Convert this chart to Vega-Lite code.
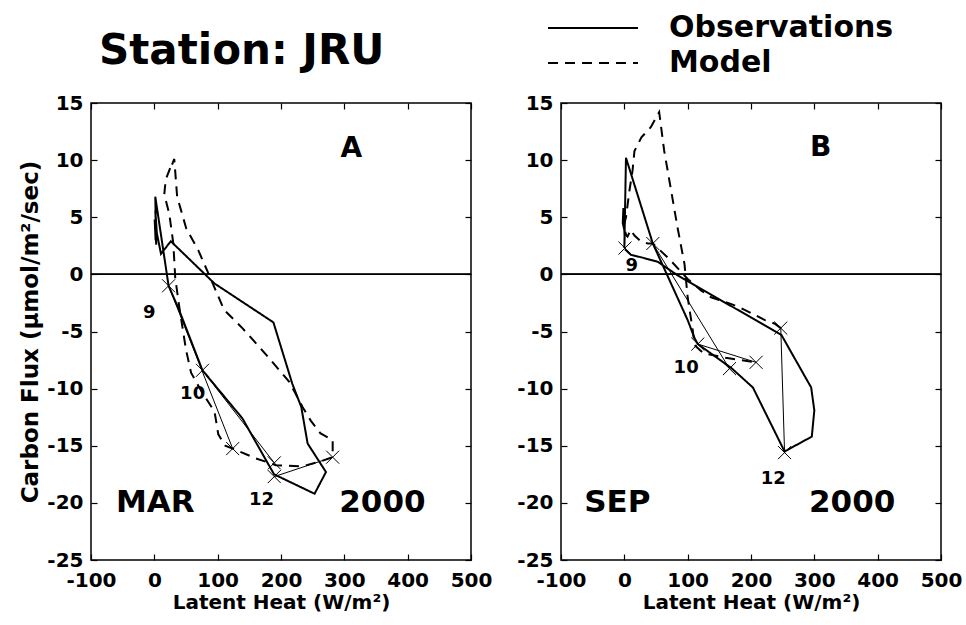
{
  "$schema": "https://vega.github.io/schema/vega-lite/v6.json",
  "padding": {"left": 19, "top": 12, "right": 5, "bottom": 5},
  "background": "white",
  "title": {"text": "Station: JRU", "anchor": "start", "frame": "group", "font": "DejaVu Sans", "fontSize": 42, "fontWeight": "bold", "color": "black", "dx": 8, "dy": 81, "offset": 20},
  "datasets": {
    "curves": [
      {"panel": "A", "series": "Observations", "ord": 1, "le": 2, "cf": 3.0},
      {"panel": "A", "series": "Observations", "ord": 2, "le": 0.5, "cf": 4.8},
      {"panel": "A", "series": "Observations", "ord": 3, "le": 3, "cf": 2.6},
      {"panel": "A", "series": "Observations", "ord": 4, "le": 1.5, "cf": 6.8},
      {"panel": "A", "series": "Observations", "ord": 5, "le": 22.5, "cf": -1.0},
      {"panel": "A", "series": "Observations", "ord": 6, "le": 39, "cf": -3.1},
      {"panel": "A", "series": "Observations", "ord": 7, "le": 76, "cf": -8.4},
      {"panel": "A", "series": "Observations", "ord": 8, "le": 139, "cf": -12.6},
      {"panel": "A", "series": "Observations", "ord": 9, "le": 189, "cf": -17.5},
      {"panel": "A", "series": "Observations", "ord": 10, "le": 253, "cf": -19.2},
      {"panel": "A", "series": "Observations", "ord": 11, "le": 271, "cf": -17.3},
      {"panel": "A", "series": "Observations", "ord": 12, "le": 242, "cf": -14.8},
      {"panel": "A", "series": "Observations", "ord": 13, "le": 232, "cf": -11.6},
      {"panel": "A", "series": "Observations", "ord": 14, "le": 218, "cf": -9.6},
      {"panel": "A", "series": "Observations", "ord": 15, "le": 188, "cf": -4.2},
      {"panel": "A", "series": "Observations", "ord": 16, "le": 95, "cf": -0.8},
      {"panel": "A", "series": "Observations", "ord": 17, "le": 26, "cf": 2.9},
      {"panel": "A", "series": "Observations", "ord": 18, "le": 10.5, "cf": 1.8},
      {"panel": "A", "series": "Observations", "ord": 19, "le": 4, "cf": 3.6},
      {"panel": "A", "series": "Observations", "ord": 20, "le": 1.5, "cf": 5.6},
      {"panel": "A", "series": "Observations", "ord": 21, "le": 3.5, "cf": 3.0},
      {"panel": "A", "series": "Model", "ord": 1, "le": 25, "cf": 9.3},
      {"panel": "A", "series": "Model", "ord": 2, "le": 18, "cf": 8.3},
      {"panel": "A", "series": "Model", "ord": 3, "le": 15.7, "cf": 7.0},
      {"panel": "A", "series": "Model", "ord": 4, "le": 23.6, "cf": 5.3},
      {"panel": "A", "series": "Model", "ord": 5, "le": 30, "cf": 2.7},
      {"panel": "A", "series": "Model", "ord": 6, "le": 33, "cf": -0.3},
      {"panel": "A", "series": "Model", "ord": 7, "le": 39.5, "cf": -2.9},
      {"panel": "A", "series": "Model", "ord": 8, "le": 50, "cf": -6.6},
      {"panel": "A", "series": "Model", "ord": 9, "le": 58, "cf": -8.6},
      {"panel": "A", "series": "Model", "ord": 10, "le": 75, "cf": -10.3},
      {"panel": "A", "series": "Model", "ord": 11, "le": 95, "cf": -12.0},
      {"panel": "A", "series": "Model", "ord": 12, "le": 101, "cf": -14.0},
      {"panel": "A", "series": "Model", "ord": 13, "le": 112, "cf": -15.0},
      {"panel": "A", "series": "Model", "ord": 14, "le": 123.7, "cf": -15.25},
      {"panel": "A", "series": "Model", "ord": 15, "le": 160, "cf": -16.1},
      {"panel": "A", "series": "Model", "ord": 16, "le": 192, "cf": -16.7},
      {"panel": "A", "series": "Model", "ord": 17, "le": 234, "cf": -16.8},
      {"panel": "A", "series": "Model", "ord": 18, "le": 266, "cf": -16.3},
      {"panel": "A", "series": "Model", "ord": 19, "le": 281.6, "cf": -16.0},
      {"panel": "A", "series": "Model", "ord": 20, "le": 281.6, "cf": -14.5},
      {"panel": "A", "series": "Model", "ord": 21, "le": 262, "cf": -13.9},
      {"panel": "A", "series": "Model", "ord": 22, "le": 247, "cf": -12.8},
      {"panel": "A", "series": "Model", "ord": 23, "le": 234, "cf": -11.6},
      {"panel": "A", "series": "Model", "ord": 24, "le": 213, "cf": -9.4},
      {"panel": "A", "series": "Model", "ord": 25, "le": 176, "cf": -7.0},
      {"panel": "A", "series": "Model", "ord": 26, "le": 139, "cf": -4.7},
      {"panel": "A", "series": "Model", "ord": 27, "le": 110, "cf": -3.1},
      {"panel": "A", "series": "Model", "ord": 28, "le": 91.5, "cf": -0.7},
      {"panel": "A", "series": "Model", "ord": 29, "le": 69.5, "cf": 2.1},
      {"panel": "A", "series": "Model", "ord": 30, "le": 50.5, "cf": 4.0},
      {"panel": "A", "series": "Model", "ord": 31, "le": 36, "cf": 6.8},
      {"panel": "A", "series": "Model", "ord": 32, "le": 31.5, "cf": 10.1},
      {"panel": "A", "series": "Model", "ord": 33, "le": 28, "cf": 9.6},
      {"panel": "B", "series": "Observations", "ord": 1, "le": 1.5, "cf": 3.5},
      {"panel": "B", "series": "Observations", "ord": 2, "le": -2.5, "cf": 4.5},
      {"panel": "B", "series": "Observations", "ord": 3, "le": -1.5, "cf": 5.8},
      {"panel": "B", "series": "Observations", "ord": 4, "le": 0.5, "cf": 3.2},
      {"panel": "B", "series": "Observations", "ord": 5, "le": 0, "cf": 2.3},
      {"panel": "B", "series": "Observations", "ord": 6, "le": 2.6, "cf": 10.2},
      {"panel": "B", "series": "Observations", "ord": 7, "le": 45, "cf": 2.7},
      {"panel": "B", "series": "Observations", "ord": 8, "le": 100, "cf": -4.0},
      {"panel": "B", "series": "Observations", "ord": 9, "le": 111, "cf": -5.6},
      {"panel": "B", "series": "Observations", "ord": 10, "le": 116, "cf": -6.1},
      {"panel": "B", "series": "Observations", "ord": 11, "le": 169, "cf": -8.2},
      {"panel": "B", "series": "Observations", "ord": 12, "le": 203, "cf": -9.9},
      {"panel": "B", "series": "Observations", "ord": 13, "le": 253, "cf": -15.5},
      {"panel": "B", "series": "Observations", "ord": 14, "le": 296, "cf": -14.2},
      {"panel": "B", "series": "Observations", "ord": 15, "le": 300, "cf": -11.9},
      {"panel": "B", "series": "Observations", "ord": 16, "le": 295, "cf": -9.9},
      {"panel": "B", "series": "Observations", "ord": 17, "le": 248, "cf": -5.3},
      {"panel": "B", "series": "Observations", "ord": 18, "le": 84.5, "cf": -0.1},
      {"panel": "B", "series": "Observations", "ord": 19, "le": 52.8, "cf": 1.1},
      {"panel": "B", "series": "Observations", "ord": 20, "le": 26.3, "cf": 1.5},
      {"panel": "B", "series": "Observations", "ord": 21, "le": 10.5, "cf": 1.7},
      {"panel": "B", "series": "Observations", "ord": 22, "le": 1, "cf": 2.2},
      {"panel": "B", "series": "Model", "ord": 1, "le": 247, "cf": -4.7},
      {"panel": "B", "series": "Model", "ord": 2, "le": 237, "cf": -4.3},
      {"panel": "B", "series": "Model", "ord": 3, "le": 222, "cf": -4.0},
      {"panel": "B", "series": "Model", "ord": 4, "le": 190, "cf": -3.1},
      {"panel": "B", "series": "Model", "ord": 5, "le": 169, "cf": -2.6},
      {"panel": "B", "series": "Model", "ord": 6, "le": 137, "cf": -2.0},
      {"panel": "B", "series": "Model", "ord": 7, "le": 121, "cf": -1.4},
      {"panel": "B", "series": "Model", "ord": 8, "le": 100, "cf": -0.4},
      {"panel": "B", "series": "Model", "ord": 9, "le": 70, "cf": 1.4},
      {"panel": "B", "series": "Model", "ord": 10, "le": 45, "cf": 2.7},
      {"panel": "B", "series": "Model", "ord": 11, "le": 37, "cf": 2.7},
      {"panel": "B", "series": "Model", "ord": 12, "le": 26, "cf": 2.9},
      {"panel": "B", "series": "Model", "ord": 13, "le": 16, "cf": 3.4},
      {"panel": "B", "series": "Model", "ord": 14, "le": 10, "cf": 3.9},
      {"panel": "B", "series": "Model", "ord": 15, "le": 5, "cf": 3.3},
      {"panel": "B", "series": "Model", "ord": 16, "le": 3, "cf": 3.4},
      {"panel": "B", "series": "Model", "ord": 17, "le": -1, "cf": 4.3},
      {"panel": "B", "series": "Model", "ord": 18, "le": 2.6, "cf": 5.0},
      {"panel": "B", "series": "Model", "ord": 19, "le": 8, "cf": 7.3},
      {"panel": "B", "series": "Model", "ord": 20, "le": 13, "cf": 9.1},
      {"panel": "B", "series": "Model", "ord": 21, "le": 16, "cf": 10.8},
      {"panel": "B", "series": "Model", "ord": 22, "le": 27, "cf": 12.0},
      {"panel": "B", "series": "Model", "ord": 23, "le": 42, "cf": 12.9},
      {"panel": "B", "series": "Model", "ord": 24, "le": 55, "cf": 14.2},
      {"panel": "B", "series": "Model", "ord": 25, "le": 63, "cf": 10.8},
      {"panel": "B", "series": "Model", "ord": 26, "le": 74, "cf": 7.3},
      {"panel": "B", "series": "Model", "ord": 27, "le": 84, "cf": 4.1},
      {"panel": "B", "series": "Model", "ord": 28, "le": 95, "cf": 0.9},
      {"panel": "B", "series": "Model", "ord": 29, "le": 100, "cf": -2.0},
      {"panel": "B", "series": "Model", "ord": 30, "le": 108, "cf": -4.9},
      {"panel": "B", "series": "Model", "ord": 31, "le": 111, "cf": -6.2},
      {"panel": "B", "series": "Model", "ord": 32, "le": 125, "cf": -6.9},
      {"panel": "B", "series": "Model", "ord": 33, "le": 160, "cf": -7.3},
      {"panel": "B", "series": "Model", "ord": 34, "le": 208, "cf": -7.7}
    ],
    "thin": [
      {"panel": "A", "seg": 1, "ord": 1, "le": 22.5, "cf": -1.0},
      {"panel": "A", "seg": 1, "ord": 2, "le": 123.7, "cf": -15.25},
      {"panel": "A", "seg": 2, "ord": 1, "le": 76, "cf": -8.4},
      {"panel": "A", "seg": 2, "ord": 2, "le": 189.4, "cf": -16.5},
      {"panel": "A", "seg": 3, "ord": 1, "le": 189.4, "cf": -17.7},
      {"panel": "A", "seg": 3, "ord": 2, "le": 281.6, "cf": -16.0},
      {"panel": "B", "seg": 1, "ord": 1, "le": 45, "cf": 2.7},
      {"panel": "B", "seg": 1, "ord": 2, "le": 166, "cf": -8.25},
      {"panel": "B", "seg": 2, "ord": 1, "le": 116, "cf": -6.1},
      {"panel": "B", "seg": 2, "ord": 2, "le": 208, "cf": -7.7},
      {"panel": "B", "seg": 3, "ord": 1, "le": 247, "cf": -4.7},
      {"panel": "B", "seg": 3, "ord": 2, "le": 253, "cf": -15.6}
    ],
    "marks": [
      {"panel": "A", "le": 22.5, "cf": -1.0},
      {"panel": "A", "le": 76, "cf": -8.4},
      {"panel": "A", "le": 123.7, "cf": -15.25},
      {"panel": "A", "le": 189.4, "cf": -16.5},
      {"panel": "A", "le": 189.4, "cf": -17.7},
      {"panel": "A", "le": 281.6, "cf": -16.0},
      {"panel": "B", "le": 1, "cf": 2.3},
      {"panel": "B", "le": 45, "cf": 2.7},
      {"panel": "B", "le": 116, "cf": -6.1},
      {"panel": "B", "le": 166, "cf": -8.25},
      {"panel": "B", "le": 208, "cf": -7.7},
      {"panel": "B", "le": 247, "cf": -4.7},
      {"panel": "B", "le": 253, "cf": -15.6}
    ],
    "notes": [
      {"panel": "A", "kind": "hour", "text": "9", "le": -8, "cf": -3.35},
      {"panel": "A", "kind": "hour", "text": "10", "le": 60.5, "cf": -10.5},
      {"panel": "A", "kind": "hour", "text": "12", "le": 169.4, "cf": -19.75},
      {"panel": "A", "kind": "letter", "text": "A", "le": 311, "cf": 11.0},
      {"panel": "A", "kind": "caption", "text": "MAR", "le": -60.5, "cf": -20},
      {"panel": "A", "kind": "caption", "text": "2000", "le": 292, "cf": -20},
      {"panel": "B", "kind": "hour", "text": "9", "le": 11.6, "cf": 0.73},
      {"panel": "B", "kind": "hour", "text": "10", "le": 97.6, "cf": -8.16},
      {"panel": "B", "kind": "hour", "text": "12", "le": 235, "cf": -17.9},
      {"panel": "B", "kind": "letter", "text": "B", "le": 310, "cf": 11.07},
      {"panel": "B", "kind": "caption", "text": "SEP", "le": -63.4, "cf": -20},
      {"panel": "B", "kind": "caption", "text": "2000", "le": 291.6, "cf": -20}
    ]
  },
  "spacing": 90,
  "bounds": "flush",
  "hconcat": [
    {
      "width": 380,
      "height": 457,
      "resolve": {"axis": {"x": "independent", "y": "independent"}},
      "layer": [
        {
          "data": {"name": "marks"},
          "transform": [{"filter": "datum.panel == 'A'"}],
          "mark": {"type": "rule", "color": "black", "strokeWidth": 1.2},
          "encoding": {
            "y": {"datum": 0, "type": "quantitative", "scale": {"domain": [-25, 15], "nice": false, "zero": false}, "axis": null}
          }
        },
        {
          "data": {"name": "curves"},
          "transform": [{"filter": "datum.panel == 'A'"}],
          "mark": {"type": "line", "color": "black", "strokeWidth": 2},
          "encoding": {
            "x": {"field": "le", "type": "quantitative", "scale": {"domain": [-100, 500], "nice": false, "zero": false},
                  "axis": {"orient": "bottom", "values": [-100, 0, 100, 200, 300, 400, 500], "title": "Latent Heat (W/m²)", "labelFlush": false, "labelOverlap": false, "labelExpr": "'' + datum.value", "labelPadding": 16, "titlePadding": 2}},
            "y": {"field": "cf", "type": "quantitative", "scale": {"domain": [-25, 15], "nice": false, "zero": false},
                  "axis": {"orient": "left", "values": [-25, -20, -15, -10, -5, 0, 5, 10, 15], "title": "Carbon Flux (μmol/m²/sec)", "titleFontSize": 23, "labelFlush": false, "labelOverlap": false, "labelExpr": "'' + datum.value"}},
            "strokeDash": {"field": "series", "type": "nominal",
                  "scale": {"domain": ["Observations", "Model"], "range": [[1, 0], [10, 7]]},
                  "legend": {"orient": "none", "legendX": 486, "legendY": -91, "title": null, "symbolType": "M-3,0L3,0", "symbolSize": 900, "symbolStrokeWidth": 2, "symbolStrokeColor": "black", "labelFont": "DejaVu Sans", "labelFontWeight": "bold", "labelFontSize": 30, "labelColor": "black", "labelOffset": 60, "rowPadding": 4, "padding": 0, "labelLimit": 400}},
            "order": {"field": "ord", "type": "quantitative"}
          }
        },
        {
          "data": {"name": "thin"},
          "transform": [{"filter": "datum.panel == 'A'"}],
          "mark": {"type": "line", "color": "black", "strokeWidth": 1},
          "encoding": {
            "x": {"field": "le", "type": "quantitative", "axis": null},
            "y": {"field": "cf", "type": "quantitative", "axis": null},
            "detail": {"field": "seg", "type": "nominal"},
            "order": {"field": "ord", "type": "quantitative"}
          }
        },
        {
          "data": {"name": "marks"},
          "transform": [{"filter": "datum.panel == 'A'"}],
          "mark": {"type": "point", "shape": "M-1,-1L1,1M-1,1L1,-1", "size": 170, "filled": false, "stroke": "black", "strokeWidth": 1, "opacity": 1},
          "encoding": {
            "x": {"field": "le", "type": "quantitative", "axis": {"orient": "top", "values": [-100, 0, 100, 200, 300, 400, 500], "labels": false, "title": null}},
            "y": {"field": "cf", "type": "quantitative", "axis": {"orient": "right", "values": [-25, -20, -15, -10, -5, 0, 5, 10, 15], "labels": false, "title": null}}
          }
        },
        {
          "data": {"name": "notes"},
          "transform": [{"filter": "datum.panel == 'A' && datum.kind == 'hour'"}],
          "mark": {"type": "text", "font": "DejaVu Sans", "fontWeight": "bold", "fontSize": 18, "align": "center", "baseline": "middle", "color": "black"},
          "encoding": {
            "x": {"field": "le", "type": "quantitative", "axis": null},
            "y": {"field": "cf", "type": "quantitative", "axis": null},
            "text": {"field": "text"}
          }
        },
        {
          "data": {"name": "notes"},
          "transform": [{"filter": "datum.panel == 'A' && datum.kind == 'letter'"}],
          "mark": {"type": "text", "font": "DejaVu Sans", "fontWeight": "bold", "fontSize": 28, "align": "center", "baseline": "middle", "color": "black"},
          "encoding": {
            "x": {"field": "le", "type": "quantitative", "axis": null},
            "y": {"field": "cf", "type": "quantitative", "axis": null},
            "text": {"field": "text"}
          }
        },
        {
          "data": {"name": "notes"},
          "transform": [{"filter": "datum.panel == 'A' && datum.kind == 'caption'"}],
          "mark": {"type": "text", "font": "DejaVu Sans", "fontWeight": "bold", "fontSize": 31, "align": "left", "baseline": "middle", "color": "black"},
          "encoding": {
            "x": {"field": "le", "type": "quantitative", "axis": null},
            "y": {"field": "cf", "type": "quantitative", "axis": null},
            "text": {"field": "text"}
          }
        }
      ]
    },
    {
      "width": 380,
      "height": 457,
      "resolve": {"axis": {"x": "independent", "y": "independent"}},
      "layer": [
        {
          "data": {"name": "marks"},
          "transform": [{"filter": "datum.panel == 'B'"}],
          "mark": {"type": "rule", "color": "black", "strokeWidth": 1.2},
          "encoding": {
            "y": {"datum": 0, "type": "quantitative", "scale": {"domain": [-25, 15], "nice": false, "zero": false}, "axis": null}
          }
        },
        {
          "data": {"name": "curves"},
          "transform": [{"filter": "datum.panel == 'B'"}],
          "mark": {"type": "line", "color": "black", "strokeWidth": 2},
          "encoding": {
            "x": {"field": "le", "type": "quantitative", "scale": {"domain": [-100, 500], "nice": false, "zero": false},
                  "axis": {"orient": "bottom", "values": [-100, 0, 100, 200, 300, 400, 500], "title": "Latent Heat (W/m²)", "labelFlush": false, "labelOverlap": false, "labelExpr": "'' + datum.value", "labelPadding": 16, "titlePadding": 2}},
            "y": {"field": "cf", "type": "quantitative", "scale": {"domain": [-25, 15], "nice": false, "zero": false},
                  "axis": {"orient": "left", "values": [-25, -20, -15, -10, -5, 0, 5, 10, 15], "title": null, "labelFlush": false, "labelOverlap": false, "labelExpr": "'' + datum.value"}},
            "strokeDash": {"field": "series", "type": "nominal",
                  "scale": {"domain": ["Observations", "Model"], "range": [[1, 0], [10, 7]]},
                  "legend": {"orient": "none", "legendX": 486, "legendY": -91, "title": null, "symbolType": "M-3,0L3,0", "symbolSize": 900, "symbolStrokeWidth": 2, "symbolStrokeColor": "black", "labelFont": "DejaVu Sans", "labelFontWeight": "bold", "labelFontSize": 30, "labelColor": "black", "labelOffset": 60, "rowPadding": 4, "padding": 0, "labelLimit": 400}},
            "order": {"field": "ord", "type": "quantitative"}
          }
        },
        {
          "data": {"name": "thin"},
          "transform": [{"filter": "datum.panel == 'B'"}],
          "mark": {"type": "line", "color": "black", "strokeWidth": 1},
          "encoding": {
            "x": {"field": "le", "type": "quantitative", "axis": null},
            "y": {"field": "cf", "type": "quantitative", "axis": null},
            "detail": {"field": "seg", "type": "nominal"},
            "order": {"field": "ord", "type": "quantitative"}
          }
        },
        {
          "data": {"name": "marks"},
          "transform": [{"filter": "datum.panel == 'B'"}],
          "mark": {"type": "point", "shape": "M-1,-1L1,1M-1,1L1,-1", "size": 170, "filled": false, "stroke": "black", "strokeWidth": 1, "opacity": 1},
          "encoding": {
            "x": {"field": "le", "type": "quantitative", "axis": {"orient": "top", "values": [-100, 0, 100, 200, 300, 400, 500], "labels": false, "title": null}},
            "y": {"field": "cf", "type": "quantitative", "axis": {"orient": "right", "values": [-25, -20, -15, -10, -5, 0, 5, 10, 15], "labels": false, "title": null}}
          }
        },
        {
          "data": {"name": "notes"},
          "transform": [{"filter": "datum.panel == 'B' && datum.kind == 'hour'"}],
          "mark": {"type": "text", "font": "DejaVu Sans", "fontWeight": "bold", "fontSize": 18, "align": "center", "baseline": "middle", "color": "black"},
          "encoding": {
            "x": {"field": "le", "type": "quantitative", "axis": null},
            "y": {"field": "cf", "type": "quantitative", "axis": null},
            "text": {"field": "text"}
          }
        },
        {
          "data": {"name": "notes"},
          "transform": [{"filter": "datum.panel == 'B' && datum.kind == 'letter'"}],
          "mark": {"type": "text", "font": "DejaVu Sans", "fontWeight": "bold", "fontSize": 28, "align": "center", "baseline": "middle", "color": "black"},
          "encoding": {
            "x": {"field": "le", "type": "quantitative", "axis": null},
            "y": {"field": "cf", "type": "quantitative", "axis": null},
            "text": {"field": "text"}
          }
        },
        {
          "data": {"name": "notes"},
          "transform": [{"filter": "datum.panel == 'B' && datum.kind == 'caption'"}],
          "mark": {"type": "text", "font": "DejaVu Sans", "fontWeight": "bold", "fontSize": 31, "align": "left", "baseline": "middle", "color": "black"},
          "encoding": {
            "x": {"field": "le", "type": "quantitative", "axis": null},
            "y": {"field": "cf", "type": "quantitative", "axis": null},
            "text": {"field": "text"}
          }
        }
      ]
    }
  ],
  "config": {
    "view": {"stroke": "black", "strokeWidth": 1.5},
    "axis": {"domain": false, "grid": false, "tickColor": "black", "tickSize": -6, "tickWidth": 1.2, "labelPadding": 14,
             "labelFont": "DejaVu Sans", "labelFontWeight": "bold", "labelFontSize": 20, "labelColor": "black",
             "titleFont": "DejaVu Sans", "titleFontWeight": "bold", "titleFontSize": 20, "titleColor": "black"}
  }
}
